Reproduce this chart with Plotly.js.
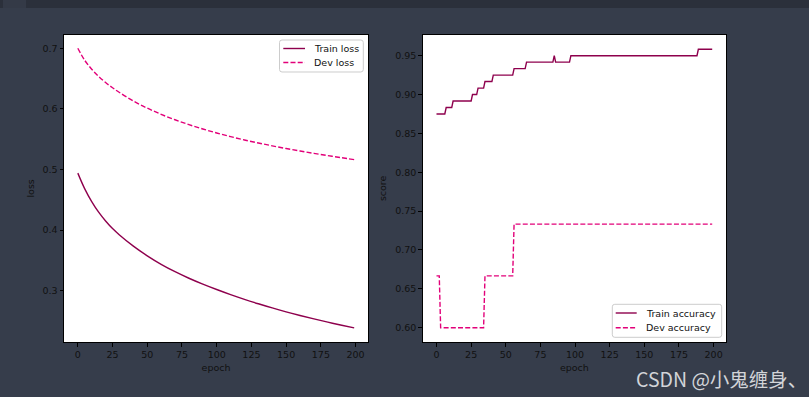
<!DOCTYPE html>
<html><head><meta charset="utf-8">
<script src="https://cdn.plot.ly/plotly-3.0.1.min.js"></script>
<style>html,body{margin:0;padding:0;background:#363d4b;overflow:hidden}#chart{width:809px;height:397px;}</style>
</head><body><div id="chart"></div>
<script>
// ---- data ----
const lossEpochs = [0,5,10,15,20,25,30,40,50,60,70,80,90,100,110,120,130,140,150,160,170,180,190,199];
const trainLoss  = [0.494,0.468,0.447,0.4295,0.415,0.4025,0.392,0.3735,0.3575,0.3435,0.3313,0.3205,0.3108,0.3019,0.2935,0.2857,0.2784,0.2715,0.2651,0.2591,0.2534,0.2480,0.2429,0.2386];
const devLoss    = [0.700,0.680,0.6655,0.6535,0.6435,0.6348,0.627,0.613,0.6012,0.591,0.582,0.574,0.5668,0.5602,0.5542,0.5487,0.5437,0.539,0.5346,0.5305,0.5266,0.5229,0.5194,0.5163];

// accuracy: epoch where each level starts, and the level
const trainAccStart = [0,7,12,26,30,35,41,56,65,85,86,97,189];
const trainAccLevel = [0.875,0.8833,0.8917,0.9,0.9083,0.9167,0.925,0.9333,0.9417,0.95,0.9417,0.95,0.9583];
const devAccStart = [0,3,35,56];
const devAccLevel = [0.6667,0.6,0.6667,0.7333];
const numEpochs = 200;

const xTicks = [0,25,50,75,100,125,150,175,200];
const lossTicks = [0.3,0.4,0.5,0.6,0.7];
const scoreTicks = [0.60,0.65,0.70,0.75,0.80,0.85,0.90,0.95];
const lossLegend = ['Train loss','Dev loss'];
const scoreLegend = ['Train accuracy','Dev accuracy'];

const trainColor = '#8E004D', devColor = '#E20079';

function expand(starts, levels){
  const ep = [], v = [];
  for (let e = 0; e < numEpochs; e++){
    let k = 0;
    for (let i = 0; i < starts.length; i++) if (starts[i] <= e) k = i;
    ep.push(e); v.push(levels[k]);
  }
  return [ep, v];
}
const [accEp, trainAcc] = expand(trainAccStart, trainAccLevel);
const [accEp2, devAcc] = expand(devAccStart, devAccLevel);

const FS = 9.5;
const font = {family:'DejaVu Sans, sans-serif', size:FS, color:'#111'};
const lw = 1.4, dash = '5px,2.2px';

const traces = [
  {x:lossEpochs, y:trainLoss, type:'scatter', mode:'lines', name:lossLegend[0],
   line:{color:trainColor, width:lw, shape:'spline', smoothing:1}, xaxis:'x', yaxis:'y'},
  {x:lossEpochs, y:devLoss, type:'scatter', mode:'lines', name:lossLegend[1],
   line:{color:devColor, width:lw, dash:dash, shape:'spline', smoothing:1}, xaxis:'x', yaxis:'y'},
  {x:accEp, y:trainAcc, type:'scatter', mode:'lines', name:scoreLegend[0],
   line:{color:trainColor, width:lw}, xaxis:'x2', yaxis:'y2'},
  {x:accEp2, y:devAcc, type:'scatter', mode:'lines', name:scoreLegend[1],
   line:{color:devColor, width:lw, dash:dash}, xaxis:'x2', yaxis:'y2'}
];

const W = 809, H = 397;
const px = x => x / W, py = y => (H - y) / H;
const yDom = [py(342), py(34.7)];
function xax(dom, anchor){
  return {domain:dom, anchor:anchor, range:[-9.95,208.95], tickmode:'array', tickvals:xTicks,
    showgrid:false, zeroline:false, showline:true, mirror:true, linecolor:'#000', linewidth:1,
    ticks:'outside', ticklen:3.5, tickcolor:'#000', tickwidth:1, tickfont:font,
    title:{text:'epoch', font:font, standoff:5}, automargin:false};
}
function yax(dom, anchor, range, ticks, fmt, label){
  return {domain:dom, anchor:anchor, range:range, tickmode:'array', tickvals:ticks, tickformat:fmt,
    showgrid:false, zeroline:false, showline:true, mirror:true, linecolor:'#000', linewidth:1,
    ticks:'outside', ticklen:3.5, tickcolor:'#000', tickwidth:1, tickfont:font,
    title:{text:label, font:font, standoff:6}, automargin:false};
}

// legend boxes drawn as shapes + text (matplotlib-style compact legend)
function roundBox(x0, y0, x1, y1, r){
  const X = v => px(v).toFixed(5), Y = v => py(v).toFixed(5);
  return `M${X(x0+r)},${Y(y0)} L${X(x1-r)},${Y(y0)} Q${X(x1)},${Y(y0)} ${X(x1)},${Y(y0+r)} ` +
         `L${X(x1)},${Y(y1-r)} Q${X(x1)},${Y(y1)} ${X(x1-r)},${Y(y1)} L${X(x0+r)},${Y(y1)} ` +
         `Q${X(x0)},${Y(y1)} ${X(x0)},${Y(y1-r)} L${X(x0)},${Y(y0+r)} Q${X(x0)},${Y(y0)} ${X(x0+r)},${Y(y0)} Z`;
}
const shapes = [
  {type:'rect', xref:'paper', yref:'paper', x0:0, x1:1, y0:py(8), y1:1, fillcolor:'#2b303b', line:{width:0}, layer:'below'},
  {type:'rect', xref:'paper', yref:'paper', x0:px(3), x1:px(26), y0:py(8), y1:1, fillcolor:'#343a47', line:{width:0}, layer:'below'}
];
const annotations = [];
function addLegend(box, rows, lineX0, lineX1, textX, labels){
  shapes.push({type:'path', xref:'paper', yref:'paper', path:roundBox(box[0],box[1],box[2],box[3],2.5),
    fillcolor:'rgba(255,255,255,0.85)', line:{color:'#cccccc', width:1}, layer:'above'});
  const styles = [{color:trainColor, width:lw}, {color:devColor, width:lw, dash:dash}];
  rows.forEach((ry, i) => {
    shapes.push({type:'line', xref:'paper', yref:'paper', x0:px(lineX0), x1:px(lineX1), y0:py(ry), y1:py(ry),
      line:styles[i], layer:'above'});
    annotations.push({text:labels[i], xref:'paper', yref:'paper', x:px(textX), y:py(ry), xanchor:'left', yanchor:'middle',
      showarrow:false, font:{family:'DejaVu Sans, sans-serif', size:FS, color:'#111'}});
  });
}
addLegend([279.5, 40, 363.3, 72], [48.5, 62.5], 283.3, 305, 312, lossLegend);
addLegend([612.3, 304.3, 721.7, 337.3], [313, 327.8], 615.7, 636.7, 643.5, scoreLegend);

annotations.push({text:'CSDN @小鬼缠身、', xref:'paper', yref:'paper', x:px(634), y:py(378), xanchor:'left', yanchor:'middle',
  showarrow:false, font:{family:'Noto Sans CJK SC, Noto Sans, sans-serif', size:19.5, color:'#d2d4d8'}});

const layout = {
  width:W, height:H, margin:{l:0,r:0,t:0,b:0},
  paper_bgcolor:'#363d4b', plot_bgcolor:'#ffffff',
  showlegend:false,
  xaxis: xax([px(64), px(368)], 'y'),
  yaxis: yax(yDom, 'x', [0.2153,0.7224], lossTicks, '.1f', 'loss'),
  xaxis2: xax([px(422.7), px(726)], 'y2'),
  yaxis2: yax(yDom, 'x2', [0.5816,0.977], scoreTicks, '.2f', 'score'),
  shapes: shapes,
  annotations: annotations
};
Plotly.newPlot('chart', traces, layout, {staticPlot:true, displayModeBar:false});
</script></body></html>
